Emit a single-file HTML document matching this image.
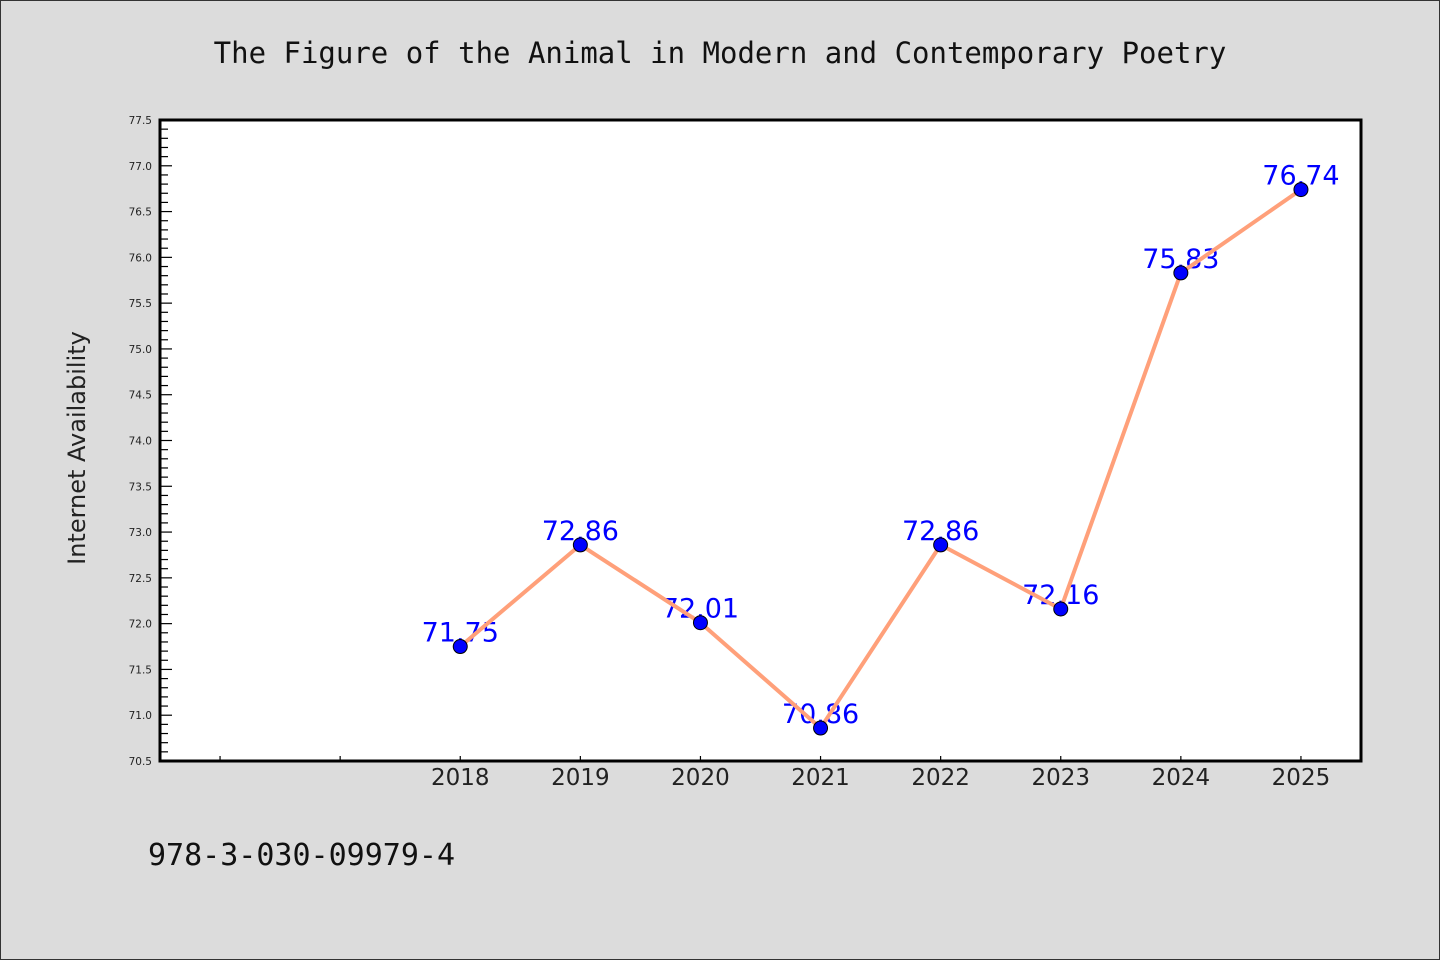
<!DOCTYPE html>
<html><head><meta charset="utf-8"><style>
html,body{margin:0;padding:0;background:#dcdcdc;}
svg{display:block;}
</style></head><body>
<svg id="chart" width="1440" height="960" xmlns="http://www.w3.org/2000/svg">
<rect x="0.5" y="0.5" width="1439" height="959" fill="#dcdcdc" stroke="#333" stroke-width="1"/>
<text x="720" y="63" text-anchor="middle" font-family="'WenQuanYi Zen Hei','DejaVu Sans Mono',monospace" font-size="29" fill="#111">The Figure of the Animal in Modern and Contemporary Poetry</text>
<rect x="160" y="120" width="1201" height="641" fill="#fff"/>
<g id="yticks"></g>
<g id="xticks"></g>
<g id="labels"></g>
<g id="series"></g>
<rect x="160" y="120" width="1201" height="641" fill="none" stroke="#000" stroke-width="3"/>
<text transform="translate(85,448) rotate(-90)" text-anchor="middle" font-family="'WenQuanYi Zen Hei','DejaVu Sans',sans-serif" font-size="24" fill="#222">Internet Availability</text>
<text x="148" y="865" font-family="'WenQuanYi Zen Hei','DejaVu Sans Mono',monospace" font-size="30" fill="#111">978-3-030-09979-4</text>
</svg>
<script>
const years = [2018, 2019, 2020, 2021, 2022, 2023, 2024, 2025];
const values = [71.75, 72.86, 72.01, 70.86, 72.86, 72.16, 75.83, 76.74];
const valueLabels = ["71.75", "72.86", "72.01", "70.86", "72.86", "72.16", "75.83", "76.74"];
const xTickYears = [2016, 2017, 2018, 2019, 2020, 2021, 2022, 2023, 2024, 2025];
const xTickLabels = ["", "", "2018", "2019", "2020", "2021", "2022", "2023", "2024", "2025"];
const yMin = 70.5, yMax = 77.5;
const xMin = 2015.5, xMax = 2025.5;
const L = 160, R = 1361, T = 120, B = 761;
const NS = "http://www.w3.org/2000/svg";
function xs(v){ return L + (v - xMin) / (xMax - xMin) * (R - L); }
function ys(v){ return B - (v - yMin) / (yMax - yMin) * (B - T); }
function mk(tag, attrs, parent){ const e = document.createElementNS(NS, tag); for (const k in attrs) e.setAttribute(k, attrs[k]); parent.appendChild(e); return e; }
const yg = document.getElementById('yticks');
for (let i = 0; i <= 70; i++) {
  const v = yMin + i * 0.1;
  const y = ys(v);
  const major = i % 5 === 0;
  const t = mk('line', {x1: L, x2: L + (major ? 12 : 8), y1: y, y2: y, stroke: '#000', 'stroke-width': 1.2}, yg);
  
  
  if (major) {
    const tx = mk('text', {x: 152, y: y + 4, 'text-anchor': 'end', 'font-family': "'DejaVu Sans',sans-serif", 'font-size': 10.5, fill: '#222'}, yg);
    tx.textContent = v.toFixed(1);
    
    
  }
}
const xg = document.getElementById('xticks');
xTickYears.forEach((yr, i) => {
  const x = xs(yr);
  const t = mk('line', {x1: x, x2: x, y1: B, y2: B - 5, stroke: '#000', 'stroke-width': 1.2}, xg);
  
  
  if (xTickLabels[i]) {
    const tx = mk('text', {x: x, y: 785, 'text-anchor': 'middle', 'font-family': "'WenQuanYi Zen Hei','DejaVu Sans',sans-serif", 'font-size': 23, fill: '#222'}, xg);
    tx.textContent = xTickLabels[i];
    
    
  }
});
const lg = document.getElementById('labels');
years.forEach((yr, i) => {
  const tx = mk('text', {x: xs(yr), y: ys(values[i]) - 5, 'text-anchor': 'middle', 'font-family': "'WenQuanYi Zen Hei','DejaVu Sans',sans-serif", 'font-size': 27, fill: '#0000ff'}, lg);
  tx.textContent = valueLabels[i];
  
  
});
const sg = document.getElementById('series');
const pl = mk('polyline', {points: years.map((yr, i) => xs(yr) + ',' + ys(values[i])).join(' '), fill: 'none', stroke: '#ffa07a', 'stroke-width': 4, 'stroke-linejoin': 'round'}, sg);


years.forEach((yr, i) => {
  const c = mk('circle', {cx: xs(yr), cy: ys(values[i]), r: 7, fill: '#0000ff', stroke: '#000', 'stroke-width': 1}, sg);
  
  
});
</script>
</body></html>
